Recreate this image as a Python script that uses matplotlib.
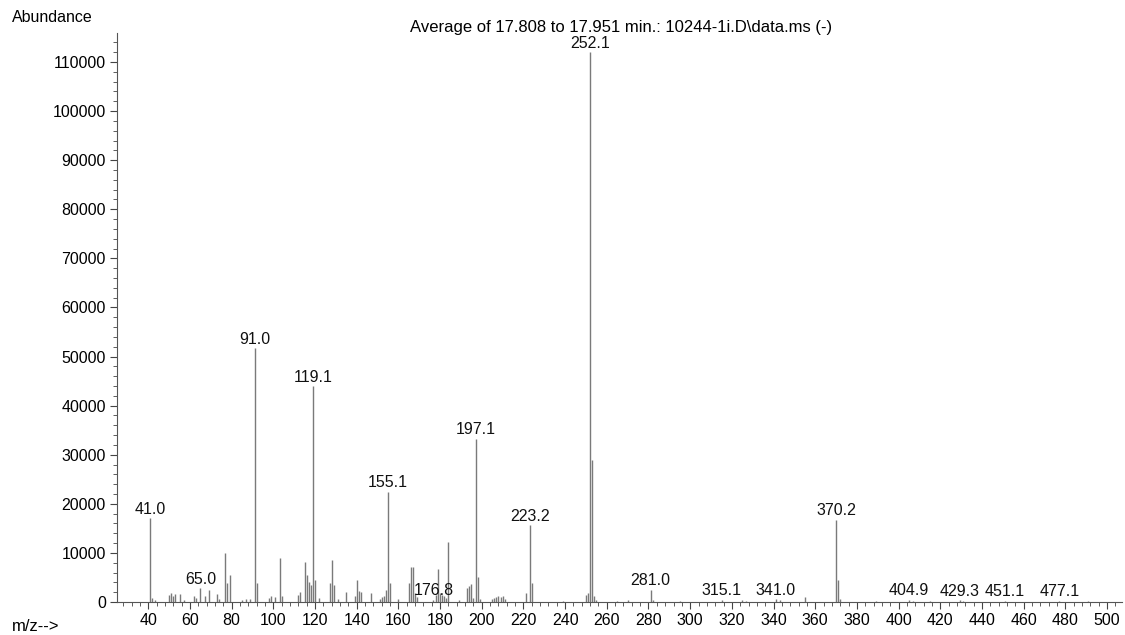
import matplotlib.pyplot as plt
from matplotlib.ticker import MultipleLocator

plt.rcParams['font.family'] = ['Liberation Sans', 'DejaVu Sans']

# averaged mass spectrum, 17.808 - 17.951 min
mz = [41.0, 42.0, 43.0, 50.0, 51.0, 52.0, 53.0, 55.0, 57.0,
      62.0, 63.0, 65.0, 67.0, 69.0, 73.0, 74.0, 77.0, 78.0, 79.0,
      85.0, 87.0, 89.0, 91.0, 92.0, 98.0, 99.0, 101.0, 103.0, 104.0,
      112.0, 113.0, 115.0, 116.0, 117.0, 118.0, 119.1, 120.0, 122.0,
      127.0, 128.0, 129.0, 131.0, 135.0, 139.0, 140.0, 141.0, 142.0,
      147.0, 151.0, 152.0, 153.0, 154.0, 155.1, 156.0, 160.0,
      165.0, 166.0, 167.0, 168.0, 169.0, 176.8, 178.0, 179.0, 180.0,
      181.0, 182.0, 183.0, 184.0, 189.0, 193.0, 194.0, 195.0, 196.0,
      197.1, 198.0, 199.0, 205.0, 206.0, 207.0, 208.0, 209.0, 210.0,
      211.0, 221.0, 223.2, 224.0, 239.0, 250.0, 251.0, 252.1, 253.0,
      254.0, 255.0, 265.0, 270.0, 281.0, 282.0, 295.0, 315.1, 325.0,
      327.0, 341.0, 343.0, 355.0, 370.2, 371.0, 372.0, 389.0, 404.9,
      407.0, 415.0, 429.3, 431.0, 451.1, 477.1, 491.0]
abundance = [17100, 900, 500, 1500, 1800, 1300, 1600, 1700, 500,
             1200, 900, 2800, 1300, 2500, 1700, 600, 9900, 3800, 5500,
             500, 700, 600, 51700, 3800, 800, 1200, 1000, 8900, 1300,
             1500, 2000, 8200, 5500, 4000, 3500, 43900, 4500, 800,
             3900, 8600, 3500, 700, 2100, 1200, 4400, 2200, 2000,
             1800, 700, 1000, 1300, 2400, 22500, 3800, 700,
             3900, 7200, 7100, 1800, 1000, 500, 1500, 6700, 1800,
             1500, 1200, 800, 12300, 500, 2800, 3200, 3600, 900,
             33300, 5000, 700, 600, 800, 1000, 1200, 1100, 1200,
             700, 1800, 15700, 3800, 300, 1500, 1800, 112000, 29000,
             1200, 500, 300, 400, 2500, 500, 300, 500, 400,
             300, 600, 400, 1000, 16800, 4500, 600, 300, 500,
             300, 300, 400, 300, 300, 300, 200]

# peaks carrying an m/z label
label_mz = [41.0, 65.0, 91.0, 119.1, 155.1, 176.8, 197.1, 223.2, 252.1,
            281.0, 315.1, 341.0, 370.2, 404.9, 429.3, 451.1, 477.1]

y_ticks = list(range(0, 110001, 10000))
x_ticks = list(range(40, 501, 20))

fig = plt.figure(figsize=(11.25, 6.35), dpi=100)
ax = fig.add_axes([0.104, 0.052, 0.893, 0.896])

ax.vlines(mz, 0, abundance, colors='#7a7a7a', linewidth=1.0)

for m in label_mz:
    h = abundance[mz.index(m)]
    ax.annotate(f'{m:.1f}', xy=(m, h), xytext=(0, 1), textcoords='offset points',
                ha='center', va='bottom', fontsize=11.5, color='#111111')

ax.set_xlim(25, 507)
ax.set_ylim(0, 115900)
ax.set_xticks(x_ticks)
ax.set_yticks(y_ticks)
ax.xaxis.set_minor_locator(MultipleLocator(4))
ax.yaxis.set_minor_locator(MultipleLocator(2000))
ax.tick_params(axis='both', which='major', labelsize=11.5, length=5, width=0.8,
               color='#444444', pad=3)
ax.tick_params(axis='both', which='minor', length=3, width=0.6, color='#444444')

for side in ('top', 'right'):
    ax.spines[side].set_visible(False)
for side in ('left', 'bottom'):
    ax.spines[side].set_color('#555555')
    ax.spines[side].set_linewidth(0.8)

fig.text(0.011, 0.972, 'Abundance', fontsize=11.5, va='center', ha='left')
fig.text(0.011, 0.014, 'm/z-->', fontsize=12, va='center', ha='left')
fig.text(0.552, 0.956, r'Average of 17.808 to 17.951 min.: 10244-1i.D\data.ms (-)',
         fontsize=12, va='center', ha='center')

fig.savefig('out.png', dpi=100)
